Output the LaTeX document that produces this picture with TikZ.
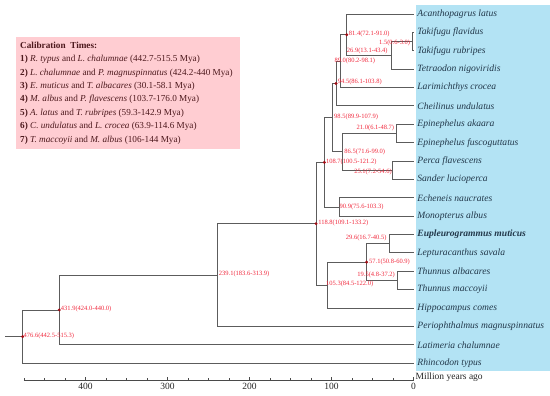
\documentclass[tikz,border=0pt]{standalone}
\usepackage{fontspec}
\setmainfont{Liberation Serif}
\usetikzlibrary{calc}
\definecolor{bark}{HTML}{5C5C5C}
\definecolor{agered}{HTML}{F0283C}
\definecolor{caldot}{HTML}{A00C14}
\definecolor{taxink}{HTML}{22384A}
\definecolor{tipblue}{HTML}{B3E3F4}
\definecolor{calpink}{HTML}{FFCDD2}
\definecolor{calink}{HTML}{4E1A1E}
\tikzset{
  every node/.style={inner sep=0pt},
  branch/.style={draw=bark,line width=.9pt},
  axisline/.style={draw=bark!80!black,line width=.6pt},
  age/.style={font=\fontsize{6.5}{7}\selectfont,text=agered},
  taxon/.style={font=\fontsize{9.6}{11}\selectfont\itshape,text=taxink,anchor=west},
  caltext/.style={font=\fontsize{9.2}{13.4}\selectfont,text=calink,align=left,anchor=west},
  tick/.style={font=\fontsize{9.5}{11}\selectfont,text=black!85},
}
\newcommand{\calpoint}[1]{\fill[caldot] (#1) circle (1.6pt);}

\begin{document}
\begin{tikzpicture}[x=1pt,y=-1pt]           % pixel units, y down
\path[use as bounding box] (0,0) rectangle (550,396);

% Tip panel and the calibration key.
\fill[tipblue] (416,5) rectangle (550,371);
\fill[calpink] (16,37) rectangle (240,149);
\node[caltext] (caltimes) at (20,93) {%
  \textbf{Calibration\ \ Times:}\\
  \textbf{1)} \textit{R. typus} and \textit{L. chalumnae} (442.7-515.5 Mya)\\
  \textbf{2)} \textit{L. chalumnae} and \textit{P. magnuspinnatus} (424.2-440 Mya)\\
  \textbf{3)} \textit{E. muticus} and \textit{T. albacares} (30.1-58.1 Mya)\\
  \textbf{4)} \textit{M. albus} and \textit{P. flavescens} (103.7-176.0 Mya)\\
  \textbf{5)} \textit{A. latus} and \textit{T. rubripes} (59.3-142.9 Mya)\\
  \textbf{6)} \textit{C. undulatus} and \textit{L. crocea} (63.9-114.6 Mya)\\
  \textbf{7)} \textit{T. maccoyii} and \textit{M. albus} (106-144 Mya)};

% Tree scope: x is read in million years before present, 0 at the tips.
\begin{scope}[shift={(413.5,0)},x=-0.82pt]
\foreach \sp [count=\i] in {Acanthopagrus latus, Takifugu flavidus,
    Takifugu rubripes, Tetraodon nigoviridis, Larimichthys crocea,
    Cheilinus undulatus, Epinephelus akaara, Epinephelus fuscoguttatus,
    Perca flavescens, Sander lucioperca, Echeneis naucrates,
    Monopterus albus, {\textbf{Eupleurogrammus muticus}},
    Lepturacanthus savala, Thunnus albacares, Thunnus maccoyii,
    Hippocampus comes, Periophthalmus magnuspinnatus,
    Latimeria chalumnae, Rhincodon typus}{
  \coordinate (tip\i) at (0,{14+(\i-1)*18.38});
  \node[taxon] (sp\i) at ($(tip\i)+(-4.5,0)$) {\sp};
}

% Internal nodes: age on x, midpoint of the two children on y.
\coordinate (n15)   at (1.5,41.57);
\coordinate (n269)  at (26.9,55.36);
\coordinate (n814)  at (81.4,34.68);
\coordinate (n890)  at (89.0,61.10);
\coordinate (n945)  at (94.5,83.50);
\coordinate (n210)  at (21.0,133.47);
\coordinate (n251)  at (25.1,170.23);
\coordinate (n865)  at (86.5,151.85);
\coordinate (n985)  at (98.5,117.68);
\coordinate (n909)  at (90.9,206.99);
\coordinate (n1087) at (108.7,162.33);
\coordinate (n296)  at (29.6,243.75);
\coordinate (n195)  at (19.5,280.51);
\coordinate (n571)  at (57.1,262.13);
\coordinate (n1053) at (105.3,285.11);
\coordinate (n1188) at (118.8,223.72);
\coordinate (n2391) at (239.1,275.09);
\coordinate (n4319) at (431.9,309.97);
\coordinate (n4766) at (476.6,336.60);
\coordinate (stem)  at (498,336.60);

\foreach \p/\c in {n15/tip2, n15/tip3, n269/n15, n269/tip4, n814/tip1,
    n814/n269, n890/n814, n890/tip5, n945/n890, n945/tip6, n210/tip7,
    n210/tip8, n251/tip9, n251/tip10, n865/n210, n865/n251, n985/n945,
    n985/n865, n909/tip11, n909/tip12, n1087/n985, n1087/n909,
    n296/tip13, n296/tip14, n195/tip15, n195/tip16, n571/n296,
    n571/n195, n1053/n571, n1053/tip17, n1188/n1087, n1188/n1053,
    n2391/n1188, n2391/tip18, n4319/n2391, n4319/tip19,
    n4766/n4319, n4766/tip20}
  \draw[branch] (\p) |- (\c);
\draw[branch] (stem) -- (n4766);

% Calibrated nodes carry a dot.
\foreach \n in {n814,n945,n1087,n1188,n571,n4319,n4766} {\calpoint{\n}}

% Ages with 95% intervals.
\foreach \n/\anc/\dx/\dy/\txt in {
    814/west/2/.5/81.4(72.1-91.0), 15/east/-2/-1.7/1.5(0.6-3.0),
    269/east/-3.7/4.4/26.9(13.1-43.4), 890/west/-6.2/0/89.0(80.2-98.1),
    945/west/1.7/1.8/94.5(86.1-103.8), 985/west/1.3/1/98.5(89.9-107.9),
    210/east/-2/5.2/21.0(6.1-48.7), 865/west/1.7/0/86.5(71.6-99.0),
    1087/west/1.5/.5/108.7(100.5-121.2), 251/east/-1/-1.5/25.1(7.2-54.6),
    909/west/.5/.3/90.9(75.6-103.3), 1188/west/2/1/118.8(109.1-133.2),
    296/east/-2.5/5.4/29.6(16.7-40.5), 571/west/2.3/.4/57.1(50.8-60.9),
    195/east/-2.5/5.5/19.5(4.8-37.2), 1053/west/-1.2/.8/105.3(84.5-122.0),
    2391/west/1.3/.8/239.1(183.6-313.9), 4319/west/1.4/.7/431.9(424.0-440.0),
    4766/west/.8/.6/476.6(442.5-515.3)}
  \node[age,anchor=\anc,xshift=\dx pt,yshift=\dy pt] (a\n) at (n\n) {\txt};

% Time axis, minor ticks every 25 Myr.
\coordinate (axl) at (475,380);
\coordinate (axr) at (0,380);
\draw[axisline] (axl) -- (axr);
\foreach \t in {0,25,...,475} \draw[axisline] (\t,380) -- ++(0,-1.6);
\foreach \t in {0,100,...,400}{
  \draw[axisline] (\t,380) -- ++(0,-3.5);
  \node[tick] (yr\t) at (\t,386.5) {\t};
}
\node[tick,anchor=west,xshift=2pt] (unit) at (0,377.5) {Million years ago};
\end{scope}
\end{tikzpicture}
\end{document}
